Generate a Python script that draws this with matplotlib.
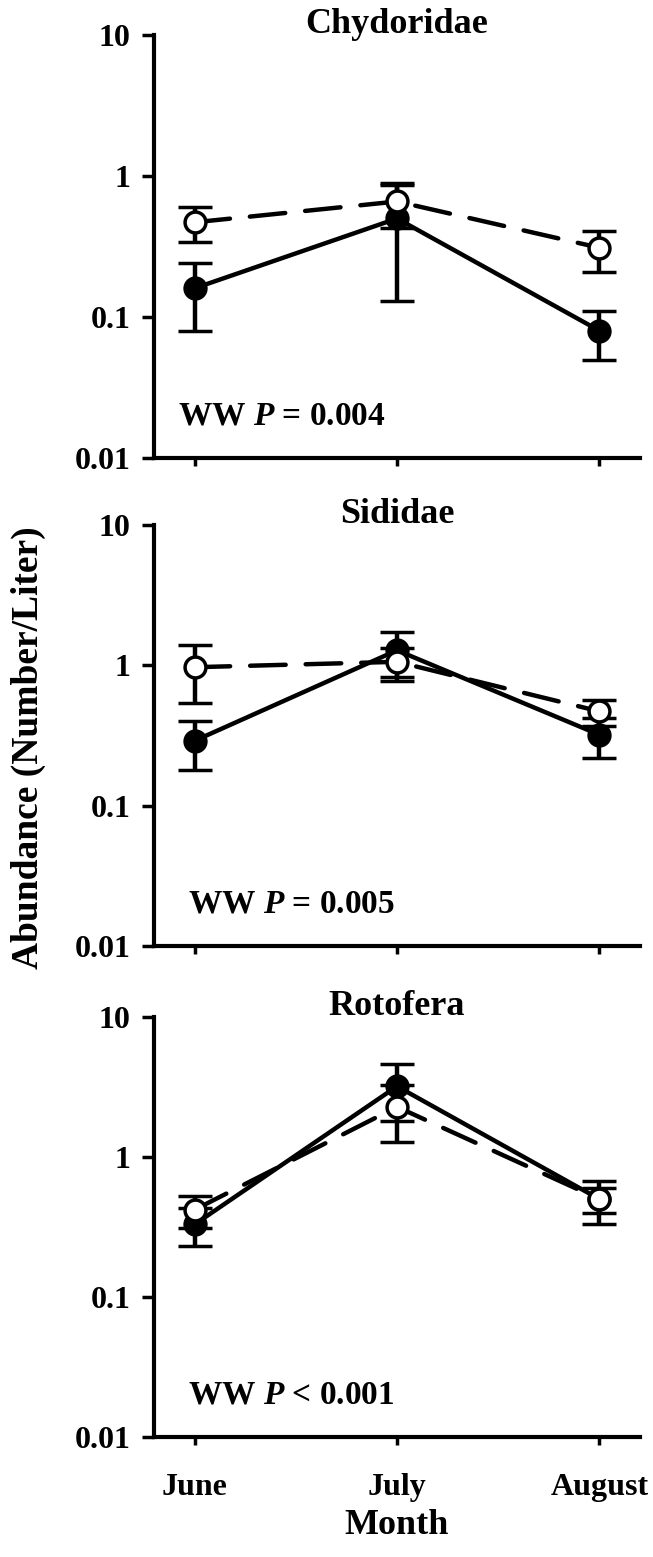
import numpy as np
from matplotlib import pyplot as plt
from matplotlib.ticker import FixedLocator, FixedFormatter, NullLocator

plt.rcParams['font.family'] = ['Liberation Serif', 'DejaVu Serif']
plt.rcParams['font.weight'] = 'bold'
plt.rcParams['mathtext.fontset'] = 'custom'
plt.rcParams['mathtext.it'] = 'Liberation Serif:italic:bold'
plt.rcParams['mathtext.rm'] = 'Liberation Serif:bold'

# dados
meses = ['June', 'July', 'August']
titulos = ['Chydoridae', 'Sididae', 'Rotofera']
textos_p = ['WW $P$ = 0.004', 'WW $P$ = 0.005', 'WW $P$ < 0.001']

fechado_1 = [0.16, 0.50, 0.08]
fechado_1_ep = [0.08, 0.37, 0.03]
aberto_1 = [0.47, 0.66, 0.31]
aberto_1_ep = [0.13, 0.23, 0.10]

fechado_2 = [0.29, 1.28, 0.32]
fechado_2_ep = [0.11, 0.45, 0.10]
aberto_2 = [0.97, 1.06, 0.47]
aberto_2_ep = [0.43, 0.28, 0.10]

fechado_3 = [0.33, 3.2, 0.50]
fechado_3_ep = [0.10, 1.4, 0.10]
aberto_3 = [0.42, 2.28, 0.50]
aberto_3_ep = [0.11, 1.0, 0.17]

fechados = [fechado_1, fechado_2, fechado_3]
fechados_ep = [fechado_1_ep, fechado_2_ep, fechado_3_ep]
abertos = [aberto_1, aberto_2, aberto_3]
abertos_ep = [aberto_1_ep, aberto_2_ep, aberto_3_ep]

yticks = [0.01, 0.1, 1, 10]
ytick_labels = ['0.01', '0.1', '1', '10']

fig = plt.figure(figsize=(6.53, 15.57), dpi=100)
# posicoes dos paineis (fração da figura)
caixas = [[0.236, 0.7058, 0.744, 0.2717],
          [0.236, 0.3924, 0.744, 0.2704],
          [0.236, 0.0771, 0.744, 0.2697]]
pos_p = [0.05, 0.07, 0.07]

x = np.arange(len(meses))
for i in range(3):
    ax = fig.add_axes(caixas[i])
    ax.errorbar(x, fechados[i], yerr=fechados_ep[i], color='black', lw=3.2,
                marker='o', ms=15, mfc='black', mec='black', mew=2.5,
                elinewidth=3.2, capsize=12, capthick=3.2, zorder=2)
    lin = ax.errorbar(x, abertos[i], yerr=abertos_ep[i], color='black', lw=3.2,
                      marker='o', ms=15, mfc='white', mec='black', mew=2.5,
                      elinewidth=3.2, capsize=12, capthick=3.2, zorder=3)
    lin[0].set_dashes([8, 4.5])
    lin[0].set_dash_capstyle('round')

    ax.set_yscale('log')
    ax.set_ylim(0.01, 10)
    ax.set_xlim(-0.2, 2.2)
    ax.yaxis.set_major_locator(FixedLocator(yticks))
    ax.yaxis.set_major_formatter(FixedFormatter(ytick_labels))
    ax.yaxis.set_minor_locator(NullLocator())
    ax.set_xticks(x)
    if i == 2:
        ax.set_xticklabels(meses)
    else:
        ax.set_xticklabels([])
    ax.tick_params(axis='y', length=9, width=2.5, labelsize=23, pad=8)
    ax.tick_params(axis='x', length=6, width=2.5, labelsize=23, pad=20)
    for s in ['top', 'right']:
        ax.spines[s].set_visible(False)
    for s in ['left', 'bottom']:
        ax.spines[s].set_linewidth(3)
    ax.text(0.5, 1.025, titulos[i], transform=ax.transAxes, ha='center',
            va='center', fontsize=26, fontweight='bold')
    ax.text(pos_p[i], 0.10, textos_p[i], transform=ax.transAxes, ha='left',
            va='center', fontsize=24, fontweight='bold')

fig.text(0.043, 0.52, 'Abundance (Number/Liter)', rotation=90, ha='center',
         va='center', fontsize=27, fontweight='bold')
fig.text(0.607, 0.020, 'Month', ha='center', va='center', fontsize=26,
         fontweight='bold')

plt.savefig('out.png', dpi=100)
